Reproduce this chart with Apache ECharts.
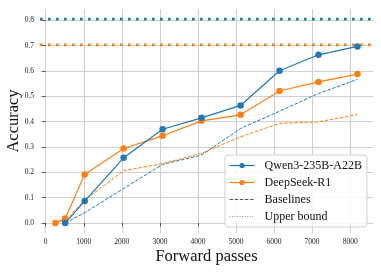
<!DOCTYPE html>
<html><head><meta charset="utf-8">
<script src="https://cdn.jsdelivr.net/npm/echarts@6/dist/echarts.min.js"></script>
<style>html,body{margin:0;padding:0;background:#fff}#c{width:381px;height:272px}</style>
</head><body><div id="c"></div>
<script>
var qwenX = [512, 1024, 2048, 3072, 4096, 5120, 6144, 7168, 8192];
var qwenY = [0.0, 0.086, 0.257, 0.370, 0.415, 0.464, 0.601, 0.664, 0.697];
var dsX = [256, 512, 1024, 2048, 3072, 4096, 5120, 6144, 7168, 8192];
var dsY = [0.0, 0.017, 0.191, 0.294, 0.344, 0.403, 0.427, 0.521, 0.557, 0.588];
var qwenBaseX = [512, 1024, 2048, 3072, 4096, 5120, 6144, 7168, 8192];
var qwenBaseY = [0.0, 0.040, 0.136, 0.231, 0.268, 0.373, 0.441, 0.511, 0.567];
var dsBaseX = [256, 512, 1024, 2048, 3072, 4096, 5120, 6144, 7168, 8192];
var dsBaseY = [0.0, 0.010, 0.090, 0.206, 0.234, 0.275, 0.340, 0.393, 0.399, 0.428];
var qwenUpper = 0.805;
var dsUpper = 0.703;
var xTicks = [0, 1000, 2000, 3000, 4000, 5000, 6000, 7000, 8000];
var yTicks = [0.0, 0.1, 0.2, 0.3, 0.4, 0.5, 0.6, 0.7, 0.8];
var xMin = -150, xMax = 8600, yMin = -0.04, yMax = 0.845;

var BLUE = '#1f77b4', ORANGE = '#ff7f0e';
var SERIF = '"Liberation Serif","Times New Roman",serif';
function zip(a, b) { return a.map(function (v, i) { return [v, b[i]]; }); }

var chart = echarts.init(document.getElementById('c'), null, {renderer: 'canvas'});
var axisCommon = {
  type: 'value',
  axisLine: {show: false},
  nameMoveOverlap: false,
  axisTick: {show: true, length: 3.5, lineStyle: {color: '#333', width: 0.8}},
  splitLine: {show: true, lineStyle: {color: '#d0d0d0', width: 1.1}},
  axisLabel: {fontFamily: SERIF, fontSize: 7.5, color: '#222'},
  nameTextStyle: {fontFamily: SERIF, fontSize: 16.5, color: '#111'}
};
var hidden = {color: 'rgba(0,0,0,0)', borderWidth: 0, opacity: 0};
chart.setOption({
  animation: false,
  backgroundColor: '#fff',
  grid: {left: 40, right: 8, top: 9, bottom: 39, outerBoundsMode: 'none', containLabel: false},
  xAxis: Object.assign({}, axisCommon, {
    min: xMin, max: xMax,
    name: 'Forward passes', nameLocation: 'middle', nameGap: 15,
    axisTick: Object.assign({}, axisCommon.axisTick, {customValues: xTicks}),
    axisLabel: Object.assign({}, axisCommon.axisLabel, {customValues: xTicks, margin: 5,
      formatter: function (v) { return String(v); }})
  }),
  yAxis: Object.assign({}, axisCommon, {
    min: yMin, max: yMax,
    name: 'Accuracy', nameLocation: 'middle', nameGap: 18,
    axisTick: Object.assign({}, axisCommon.axisTick, {customValues: yTicks}),
    axisLabel: Object.assign({}, axisCommon.axisLabel, {customValues: yTicks, margin: 6,
      formatter: function (v) { return v.toFixed(1); }})
  }),
  legend: {
    data: [
      {name: 'Qwen3-235B-A22B', lineStyle: {width: 1.2}},
      {name: 'DeepSeek-R1', lineStyle: {width: 1.2}},
      {name: 'Baselines', lineStyle: {width: 1}, itemStyle: hidden},
      {name: 'Upper bound', lineStyle: {width: 0.8}, itemStyle: hidden}
    ],
    orient: 'vertical', left: 225, top: 155,
    itemWidth: 25, itemHeight: 6.5, itemGap: 3,
    padding: [3.5, 5, 3.5, 4],
    backgroundColor: 'rgba(255,255,255,0.85)',
    borderColor: '#d0d0d0', borderWidth: 1, borderRadius: 3,
    textStyle: {fontFamily: SERIF, fontSize: 12, lineHeight: 14, color: '#111', padding: [0, 0, 0, 5]}
  },
  series: [
    {name: 'Qwen upper', type: 'line', data: [[xMin, qwenUpper], [xMax, qwenUpper]], symbol: 'none',
     lineStyle: {color: BLUE, width: 2.7, type: [2.7, 5.3], cap: 'butt'}, z: 1, silent: true},
    {name: 'DeepSeek upper', type: 'line', data: [[xMin, dsUpper], [xMax, dsUpper]], symbol: 'none',
     lineStyle: {color: ORANGE, width: 2.7, type: [2.7, 5.3], cap: 'butt'}, z: 1, silent: true},
    {name: 'Qwen baseline', type: 'line', data: zip(qwenBaseX, qwenBaseY), symbol: 'none',
     lineStyle: {color: BLUE, width: 1, type: [3.5, 1.6]}, z: 2},
    {name: 'DeepSeek baseline', type: 'line', data: zip(dsBaseX, dsBaseY), symbol: 'none',
     lineStyle: {color: ORANGE, width: 1, type: [3.5, 1.6]}, z: 2},
    {name: 'DeepSeek-R1', type: 'line', data: zip(dsX, dsY), symbol: 'circle', symbolSize: 6.5,
     color: ORANGE, lineStyle: {color: ORANGE, width: 1.2}, z: 3},
    {name: 'Qwen3-235B-A22B', type: 'line', data: zip(qwenX, qwenY), symbol: 'circle', symbolSize: 6.5,
     color: BLUE, lineStyle: {color: BLUE, width: 1.2}, z: 4},
    {name: 'Baselines', type: 'line', data: [], symbol: 'none', color: '#555',
     lineStyle: {color: '#555', width: 1, type: [3.5, 1.6]}},
    {name: 'Upper bound', type: 'line', data: [], symbol: 'none', color: '#777',
     lineStyle: {color: '#777', width: 0.8, type: [1, 1.5]}}
  ]
});
</script></body></html>
